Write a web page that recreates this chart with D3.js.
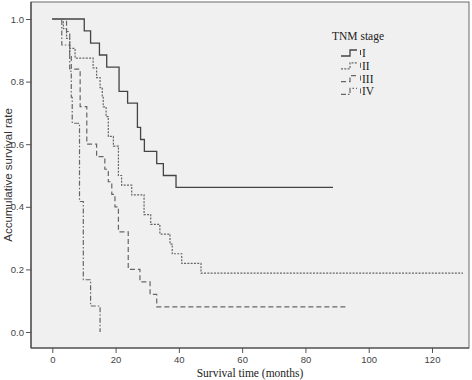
<!DOCTYPE html>
<html>
<head>
<meta charset="utf-8">
<script src="https://cdn.jsdelivr.net/npm/d3@7"></script>
<style>
  body { margin: 0; background: #fff; }
  svg { display: block; }
  .tick text { font-family: "Liberation Sans", Arial, sans-serif; font-size: 9.5px; fill: #444; }
  .tick line { stroke: #555; }
</style>
</head>
<body>
<svg id="chart" width="472" height="380"></svg>
<script>
// Kaplan-Meier steps (months, survival)
const stageNames = ['I', 'II', 'III', 'IV'];

const timeI = [0, 10.1, 12.1, 14.9, 17.2, 21.1, 23.8, 26.9, 27.9, 29.1, 33.0, 35.1, 39.1, 88.7];
const survI = [1, .962, .923, .885, .846, .769, .731, .654, .615, .577, .538, .500, .462, .462];

const timeII = [0, 3.5, 4.5, 5.5, 7.2, 12.9, 14.0, 15.1, 15.8, 16.1, 17.0, 17.7, 19.3, 20.9, 21.9, 25.1, 29.0, 31.1, 34.0, 37.2, 37.9, 40.9, 47.0, 129.8];
const survII = [1, .969, .938, .906, .875, .844, .813, .781, .750, .719, .688, .625, .594, .500, .469, .438, .375, .344, .313, .281, .250, .219, .188, .188];

const timeIII = [0, 4.5, 5.5, 6.0, 8.8, 10.9, 14.0, 16.6, 17.7, 18.8, 19.8, 20.9, 24.0, 27.7, 30.9, 33.0, 93.1];
const survIII = [1, .96, .88, .84, .72, .60, .56, .52, .48, .44, .40, .32, .20, .16, .12, .08, .08];

const timeIV = [0, 3.0, 5.5, 6.0, 6.3, 8.6, 9.8, 12.1, 15.1];
const survIV = [1, .917, .833, .750, .667, .417, .167, .083, 0];

const xTicks = [0, 20, 40, 60, 80, 100, 120];
const yTicks = [0, 0.2, 0.4, 0.6, 0.8, 1.0];

const series = [
  { name: 'I',   time: timeI,   surv: survI,   dash: null,          color: '#444', width: 1.3 },
  { name: 'II',  time: timeII,  surv: survII,  dash: '2,1.3',       color: '#666', width: 1.2 },
  { name: 'III', time: timeIII, surv: survIII, dash: '5,3',         color: '#666', width: 1.2 },
  { name: 'IV',  time: timeIV,  surv: survIV,  dash: '5,2,1.5,2',   color: '#666', width: 1.2 },
];

const svg = d3.select('#chart');

const frame = { left: 31, top: 2, right: 469, bottom: 348 };

const x = d3.scaleLinear().domain([0, 120]).range([52.3, 432]);
const y = d3.scaleLinear().domain([0, 1]).range([332, 19]);

// plot background + frame
svg.append('rect')
  .attr('x', frame.left).attr('y', frame.top)
  .attr('width', frame.right - frame.left).attr('height', frame.bottom - frame.top)
  .attr('fill', '#f0f0f0')
  .attr('stroke', '#6a6a6a')
  .attr('stroke-width', 1);

// axes (ticks only, frame acts as domain)
const yAxis = svg.append('g')
  .attr('transform', `translate(${frame.left},0)`)
  .call(d3.axisLeft(y).tickValues(yTicks).tickFormat(d3.format('.1f')).tickSize(5).tickPadding(2));
yAxis.select('.domain').remove();

const xAxis = svg.append('g')
  .attr('transform', `translate(0,${frame.bottom})`)
  .call(d3.axisBottom(x).tickValues(xTicks).tickSize(5).tickPadding(3));
xAxis.select('.domain').remove();

// darker left and bottom axis lines
svg.append('line')
  .attr('x1', frame.left).attr('x2', frame.left)
  .attr('y1', frame.top).attr('y2', frame.bottom)
  .attr('stroke', '#444').attr('stroke-width', 1.2);
svg.append('line')
  .attr('x1', frame.left).attr('x2', frame.right)
  .attr('y1', frame.bottom).attr('y2', frame.bottom)
  .attr('stroke', '#444').attr('stroke-width', 1.2);

// survival curves
const line = d3.line()
  .x(d => x(d[0]))
  .y(d => y(d[1]))
  .curve(d3.curveStepAfter);

series.forEach(s => {
  const pts = s.time.map((t, i) => [t, s.surv[i]]);
  svg.append('path')
    .datum(pts)
    .attr('d', line)
    .attr('fill', 'none')
    .attr('stroke', s.color)
    .attr('stroke-width', s.width)
    .attr('stroke-dasharray', s.dash);
});

// axis titles
svg.append('text')
  .attr('x', 250).attr('y', 377)
  .attr('text-anchor', 'middle')
  .style('font-family', '"Liberation Serif", "Times New Roman", serif')
  .style('font-size', '11.5px')
  .attr('fill', '#222')
  .text('Survival time (months)');

svg.append('text')
  .attr('transform', 'translate(12,175) rotate(-90)')
  .attr('text-anchor', 'middle')
  .style('font-family', '"Liberation Sans", Arial, sans-serif')
  .style('font-size', '11.5px')
  .attr('fill', '#333')
  .text('Accumulative survival rate');

// legend
const legend = svg.append('g').attr('transform', 'translate(332,0)');
legend.append('text')
  .attr('x', 0).attr('y', 40)
  .style('font-family', '"Liberation Serif", "Times New Roman", serif')
  .style('font-size', '11.5px')
  .attr('fill', '#222')
  .text('TNM stage');

series.forEach((s, i) => {
  const cy = 53 + i * 12.8;
  const g = legend.append('g').attr('transform', `translate(0,${cy})`);
  g.append('path')
    .attr('d', 'M9,3 H18 V-3 H25')
    .attr('fill', 'none')
    .attr('stroke', s.color)
    .attr('stroke-width', s.width)
    .attr('stroke-dasharray', s.dash);
  g.append('line')
    .attr('x1', 28.5).attr('x2', 28.5).attr('y1', -3).attr('y2', 2)
    .attr('stroke', s.color).attr('stroke-width', 1);
  g.append('text')
    .attr('x', 30).attr('y', 4)
    .style('font-family', '"Liberation Serif", "Times New Roman", serif')
    .style('font-size', '11.5px')
    .attr('fill', '#222')
    .text(s.name);
});
</script>
</body>
</html>
